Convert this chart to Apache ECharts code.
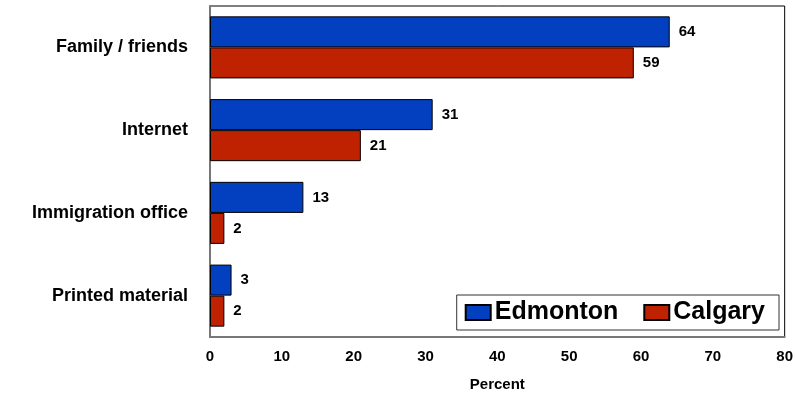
<!DOCTYPE html>
<html>
<head>
<meta charset="utf-8">
<script src="https://cdn.jsdelivr.net/npm/echarts@6/dist/echarts.min.js"></script>
<style>
html, body { margin: 0; padding: 0; background: #fff; }
#main { width: 796px; height: 397px; }
</style>
</head>
<body>
<div id="main"></div>
<script>
var categories = ['Family / friends', 'Internet', 'Immigration office', 'Printed material'];
var edmonton = [64, 31, 13, 3];
var calgary = [59, 21, 2, 2];
var xTicks = { min: 0, max: 80, interval: 10 };

var font = 'Liberation Sans, Arial, sans-serif';
var myChart = echarts.init(document.getElementById('main'));

var barLabel = {
    show: true,
    position: 'right',
    distance: 9,
    color: '#000',
    fontFamily: font,
    fontWeight: 'bold',
    fontSize: 15
};

var option = {
    animation: false,
    backgroundColor: '#fff',
    textStyle: { fontFamily: font },
    grid: {
        left: 210,
        right: 11,
        top: 6,
        bottom: 60,
        show: true,
        borderColor: '#000',
        borderWidth: 1
    },
    legend: {
        data: ['Edmonton', 'Calgary'],
        right: 17,
        bottom: 67,
        orient: 'horizontal',
        backgroundColor: '#fff',
        borderColor: '#333',
        borderWidth: 1,
        padding: [5, 14, 5, 8],
        itemGap: 25,
        itemWidth: 25,
        itemHeight: 15,
        icon: 'rect',
        textStyle: {
            fontFamily: font,
            fontWeight: 'bold',
            fontSize: 25,
            color: '#000',
            padding: [0, 0, 0, -1]
        }
    },
    xAxis: {
        type: 'value',
        min: xTicks.min,
        max: xTicks.max,
        interval: xTicks.interval,
        name: 'Percent',
        nameLocation: 'middle',
        nameGap: 40,
        nameTextStyle: { fontFamily: font, fontWeight: 'bold', fontSize: 15, color: '#000' },
        axisLine: { show: true, lineStyle: { color: '#777', width: 2 } },
        axisTick: { show: false },
        splitLine: { show: false },
        axisLabel: { fontFamily: font, fontWeight: 'bold', fontSize: 15, color: '#000', margin: 12 }
    },
    yAxis: {
        type: 'category',
        inverse: true,
        data: categories,
        axisLine: { show: true, lineStyle: { color: '#777', width: 2 } },
        axisTick: { show: false },
        axisLabel: { fontFamily: font, fontWeight: 'bold', fontSize: 18, color: '#000', margin: 22 }
    },
    series: [
        {
            name: 'Edmonton',
            type: 'bar',
            data: edmonton,
            barGap: '0%',
            barCategoryGap: '25%',
            itemStyle: { color: '#0340BF', borderColor: '#000', borderWidth: 1 },
            label: barLabel
        },
        {
            name: 'Calgary',
            type: 'bar',
            data: calgary,
            itemStyle: { color: '#BF2200', borderColor: '#000', borderWidth: 1 },
            label: barLabel
        }
    ]
};
myChart.setOption(option);
</script>
</body>
</html>
